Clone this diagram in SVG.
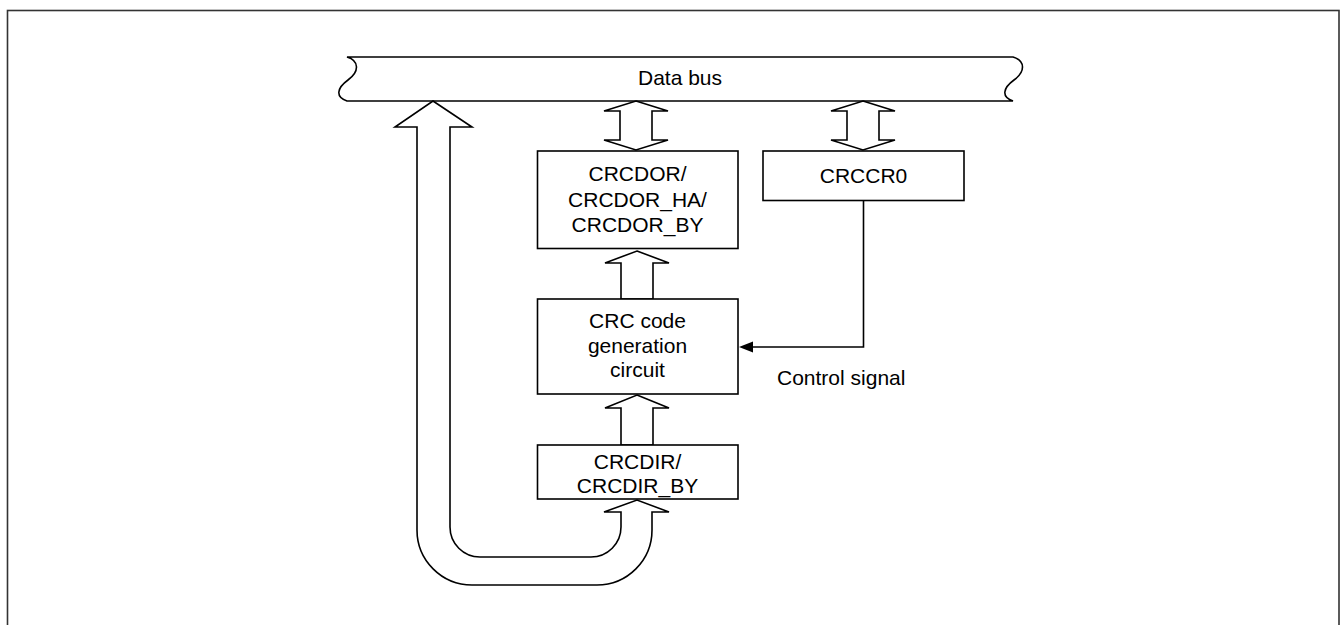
<svg xmlns="http://www.w3.org/2000/svg" width="1341" height="625" viewBox="0 0 1341 625">
<style>
.ln{fill:#fff;stroke:#000;stroke-width:1.6;stroke-linejoin:miter}
.t{font-family:"Liberation Sans",Arial,sans-serif;font-size:21px;fill:#000;text-anchor:middle}
</style>
<rect x="7.5" y="10.5" width="1331.5" height="620" fill="#fff" stroke="#333" stroke-width="1.6"/>
<g id="databus">
<path class="ln" d="M347,57 H1013 C1026,61 1025,72 1014,80 C1003,88 1001,97 1013,101 H347 C335,97 337,88 348,80 C359,72 360,61 347,57 Z"/>
<text class="t" x="680" y="85">Data bus</text>
</g>
<g id="connectors">
<path class="ln" d="M433,101 L472,127 H450 V527 A30,30 0 0 0 480,557 H591 A30,30 0 0 0 621,527 V512 H604 L637,500 L669,512 H652 V530 A55,55 0 0 1 597,585 H472 A55,55 0 0 1 417,530 V127 H395 Z"/>
<polygon class="ln" points="636,101 668,111 652,111 652,140 668,140 636,150 604,140 620,140 620,111 604,111"/>
<polygon class="ln" points="863,101 895,111 879,111 879,140 895,140 863,150 831,140 847,140 847,111 831,111"/>
<polygon class="ln" points="637,251 669,263 653,263 653,299 621,299 621,263 605,263"/>
<polygon class="ln" points="637,395 669,408 653,408 653,445 621,445 621,408 605,408"/>
<path d="M863.5,200 V347 H752" fill="none" stroke="#000" stroke-width="1.6"/>
<polygon points="739,347 753,341.5 753,352.5" fill="#000"/>
<text class="t" x="777" y="385" style="text-anchor:start">Control signal</text>
</g>
<g id="crcdor">
<rect class="ln" x="537.5" y="151" width="200.5" height="97.5"/>
<text class="t" x="637.5" y="181">CRCDOR/</text>
<text class="t" x="637.5" y="206.5">CRCDOR_HA/</text>
<text class="t" x="637.5" y="232">CRCDOR_BY</text>
</g>
<g id="crccr0">
<rect class="ln" x="763" y="151" width="201" height="49.5"/>
<text class="t" x="863.5" y="183">CRCCR0</text>
</g>
<g id="crcgen">
<rect class="ln" x="537.5" y="299" width="200.5" height="95"/>
<text class="t" x="637.5" y="328">CRC code</text>
<text class="t" x="637.5" y="352.5">generation</text>
<text class="t" x="637.5" y="377">circuit</text>
</g>
<g id="crcdir">
<rect class="ln" x="537.5" y="445" width="200.5" height="54"/>
<text class="t" x="637.5" y="469">CRCDIR/</text>
<text class="t" x="637.5" y="492.5">CRCDIR_BY</text>
</g>
</svg>
